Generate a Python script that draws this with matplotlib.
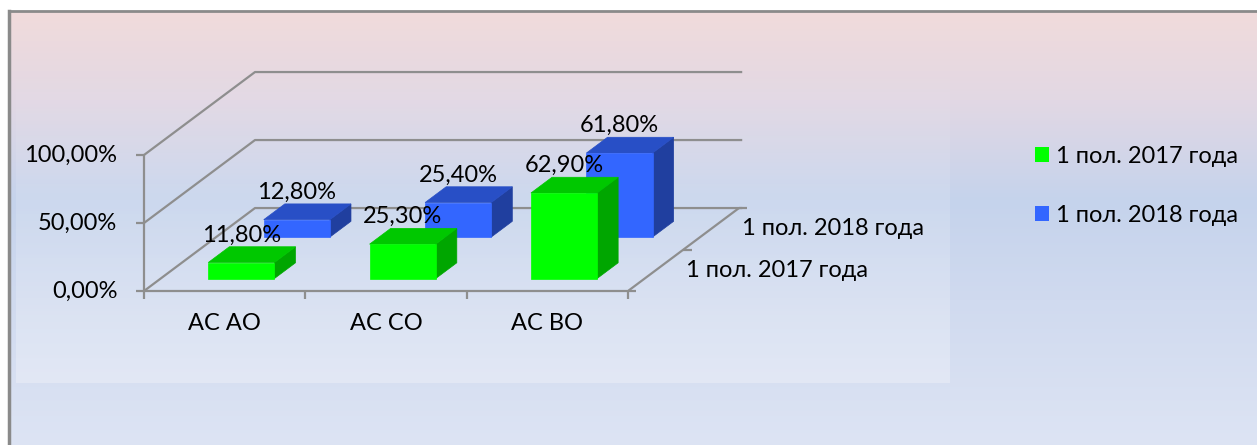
import numpy as np
import matplotlib
matplotlib.use("Agg")
import matplotlib.pyplot as plt
from matplotlib.patches import Polygon, Patch

plt.rcParams['font.family'] = ['Lato', 'DejaVu Sans']

categories = ['АС АО', 'АС СО', 'АС ВО']
series_names = ['1 пол. 2017 года', '1 пол. 2018 года']
values_2017 = [0.118, 0.253, 0.629]
values_2018 = [0.128, 0.254, 0.618]
value_labels_2017 = ['11,80%', '25,30%', '62,90%']
value_labels_2018 = ['12,80%', '25,40%', '61,80%']
y_ticks = [0.0, 0.5, 1.0]
y_tick_labels = ['0,00%', '50,00%', '100,00%']

W, H = 1257, 445
FS = 17
GRID = '#8e8e8e'

fig = plt.figure(figsize=(W / 100, H / 100), dpi=100)

# background (pixel coordinates)
bg = fig.add_axes([0, 0, 1, 1])
bg.set_xlim(0, W)
bg.set_ylim(H, 0)
bg.axis('off')
stops_y = [11, 100, 200, 300, 445]
stops_c = np.array([[241, 219, 219], [226, 216, 228], [197, 211, 236],
                    [208, 218, 239], [221, 228, 244]]) / 255
yy = np.arange(11, 446)
grad = np.stack([np.interp(yy, stops_y, stops_c[:, k]) for k in range(3)], axis=-1)
bg.imshow(grad[:, None, :], extent=(9, W, 445, 11), aspect='auto', zorder=0)
# plot area overlay, a bit lighter towards the bottom
ov = np.zeros((100, 1, 4))
ov[..., :3] = 1.0
ov[:, 0, 3] = np.linspace(0.0, 0.28, 100)
bg.imshow(ov, extent=(16, 950, 383, 45), aspect='auto', zorder=1)
bg.plot([9, W], [11, 11], color='#8a8a8a', lw=2, zorder=2)
bg.plot([9, 9], [11, H], color='#8a8a8a', lw=2.5, zorder=2)

# chart axes: x in category units, y in value units
ax = fig.add_axes([144 / W, (H - 291) / H, 484 / W, 136 / H])
ax.set_xlim(0, 3)
ax.set_ylim(0, 1)
ax.axis('off')
ax.patch.set_alpha(0)

DX, DY = 0.688, 0.610   # depth direction in data units


def P(x, y, d):
    return (x + d * DX, y + d * DY)


kw = dict(color=GRID, lw=1.6, clip_on=False, solid_capstyle='butt')
# walls and grid
for t in y_ticks:
    a, b = P(0, t, 0), P(0, t, 1)
    c = P(3, t, 1)
    ax.plot([a[0], b[0], c[0] + 0.02], [a[1], b[1], c[1]], **kw)
    ax.plot([-0.05, 0], [t, t], **kw)
ax.plot([0, 0], [0, 1], **kw)
# floor front and right edges
f2 = P(3, 0, 1)
ax.plot([0, 3, f2[0]], [0, 0, f2[1]], **kw)
for i in range(4):
    ax.plot([i, i], [0, -0.06], **kw)
for d in [0, 0.5, 1]:
    p = P(3, 0, d)
    ax.plot([p[0], p[0] + 0.05], [p[1], p[1]], **kw)

colors = [
    {'front': '#00ff00', 'top': '#00c800', 'side': '#00a600'},
    {'front': '#3366ff', 'top': '#284fc6', 'side': '#203f9f'},
]
bar_w = 0.41
bar_d = 0.19
rows = [values_2017, values_2018]
labels = [value_labels_2017, value_labels_2018]

z = 3
for r in [1, 0]:
    d0 = 0.15 + 0.5 * r
    d1 = d0 + bar_d
    for i, h in enumerate(rows[r]):
        x0 = i + 0.5 - bar_w / 2
        x1 = x0 + bar_w
        c = colors[r]
        front = [P(x0, 0, d0), P(x1, 0, d0), P(x1, h, d0), P(x0, h, d0)]
        top = [P(x0, h, d0), P(x1, h, d0), P(x1, h, d1), P(x0, h, d1)]
        side = [P(x1, 0, d0), P(x1, 0, d1), P(x1, h, d1), P(x1, h, d0)]
        for pts, col in [(side, c['side']), (top, c['top']), (front, c['front'])]:
            ax.add_patch(Polygon(pts, closed=True, facecolor=col, edgecolor=col,
                                 lw=0.5, zorder=z, clip_on=False))
    z += 1

for r in [1, 0]:
    d0 = 0.15 + 0.5 * r
    d1 = d0 + bar_d
    for i, h in enumerate(rows[r]):
        px, py = P(i + 0.5, h, d1)
        fx = i + 0.5 + d0 * DX
        ax.text(fx, py + 0.01, labels[r][i], ha='center', va='bottom',
                fontsize=FS, color='black', zorder=10, clip_on=False)

for t, lab in zip(y_ticks, y_tick_labels):
    ax.text(-0.165, t, lab, ha='right', va='center', fontsize=FS, clip_on=False)

for i, cat in enumerate(categories):
    ax.text(i + 0.5, -0.24, cat, ha='center', va='center', fontsize=FS, clip_on=False)

for r, name in enumerate(series_names):
    p = P(3, 0, 0.25 + 0.5 * r)
    ax.text(p[0] + 0.19, p[1], name, ha='left', va='center', fontsize=FS, clip_on=False)

handles = [Patch(facecolor=colors[k]['front'], edgecolor='none') for k in range(2)]
fig.legend(handles, series_names, loc='upper left',
           bbox_to_anchor=(1035 / W, 1 - 146 / H), frameon=False, fontsize=FS,
           handlelength=0.6, handleheight=0.6, handletextpad=0.3, labelspacing=1.6,
           borderpad=0, borderaxespad=0)

fig.savefig('out.png', dpi=100)
